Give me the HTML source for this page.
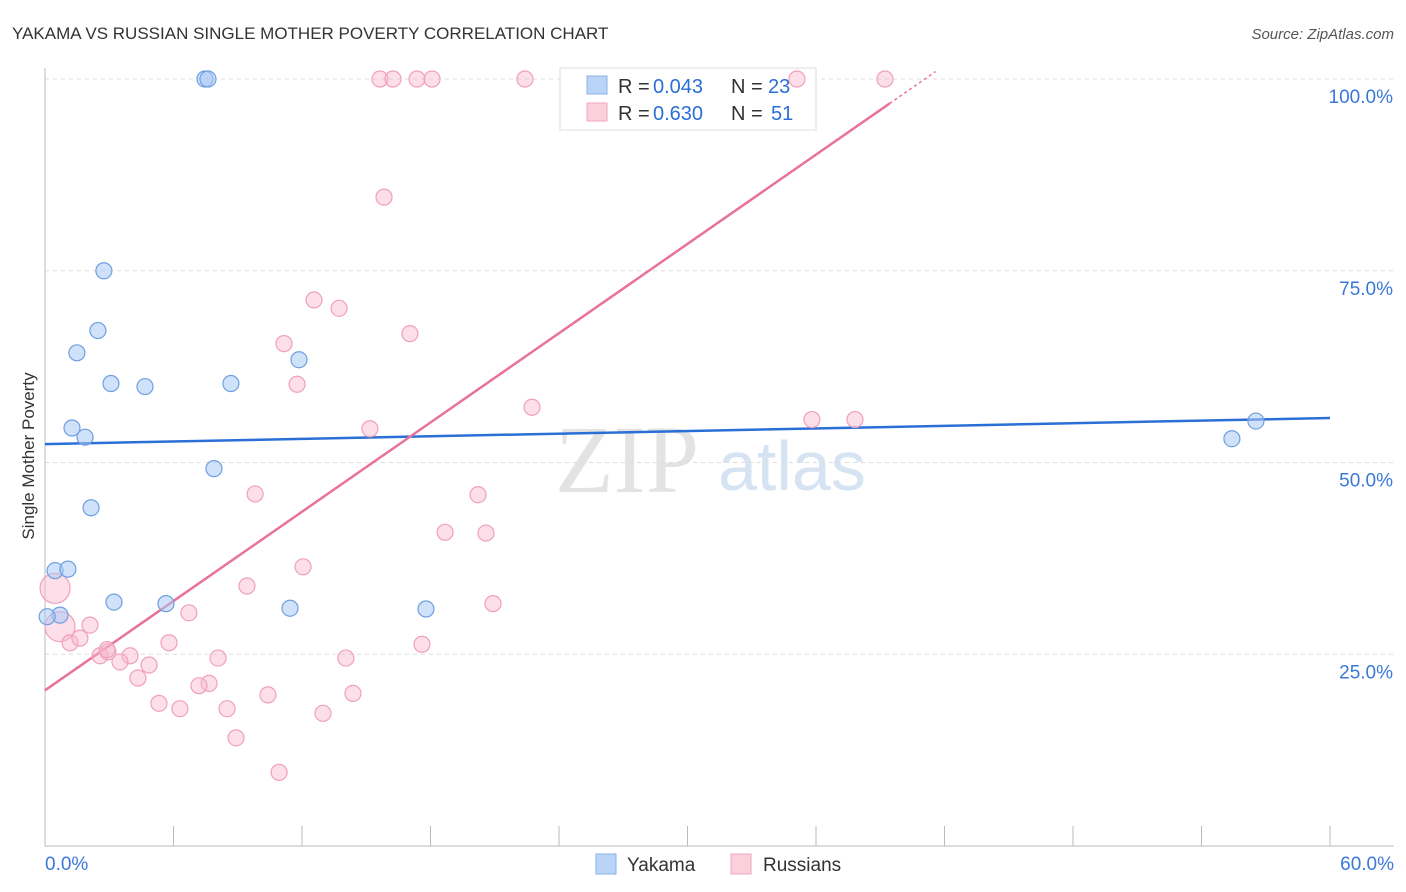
<!DOCTYPE html>
<html><head><meta charset="utf-8">
<style>
body{margin:0;background:#fff;font-family:"Liberation Sans",sans-serif;}
#wrap{position:relative;width:1406px;height:892px;overflow:hidden;}
</style></head>
<body>
<div id="wrap">
<svg id="chart" width="1406" height="892">
<text x="12" y="39" font-size="17" fill="#333">YAKAMA VS RUSSIAN SINGLE MOTHER POVERTY CORRELATION CHART</text>
<text x="1394" y="39" font-size="15" fill="#555" text-anchor="end" font-style="italic">Source: ZipAtlas.com</text>
<text x="34" y="456" font-size="17" fill="#333" text-anchor="middle" transform="rotate(-90 34 456)">Single Mother Poverty</text>
<text x="555" y="492" font-size="96" fill="#e3e3e3" font-family="Liberation Serif,serif">ZIP</text>
<text x="718" y="490" font-size="70" fill="#d6e3f3">atlas</text>
<g id="grid"></g><g id="axes"></g>
<g>
<rect x="560" y="68" width="256" height="62" fill="#fff" stroke="#ddd"/>
<rect x="587" y="76" width="20" height="18" fill="#b9d4f7" stroke="#8ab2e6"/>
<text x="618" y="93" font-size="20" fill="#333">R =</text>
<text x="653" y="93" font-size="20" fill="#2a6fd6">0.043</text>
<text x="731" y="93" font-size="20" fill="#333">N =</text>
<text x="768" y="93" font-size="20" fill="#2a6fd6">23</text>
<rect x="587" y="103" width="20" height="18" fill="#fbcfdc" stroke="#f0a6bd"/>
<text x="618" y="120" font-size="20" fill="#333">R =</text>
<text x="653" y="120" font-size="20" fill="#2a6fd6">0.630</text>
<text x="731" y="120" font-size="20" fill="#333">N =</text>
<text x="771" y="120" font-size="20" fill="#2a6fd6">51</text>
</g>
<g id="lines"></g><g id="pts"></g>
<g>
<rect x="596" y="854" width="20" height="20" fill="#b9d4f7" stroke="#8ab2e6"/>
<text x="627" y="871" font-size="19" fill="#333">Yakama</text>
<rect x="731" y="854" width="20" height="20" fill="#fbcfdc" stroke="#f0a6bd"/>
<text x="763" y="871" font-size="19" fill="#333">Russians</text>
</g>
</svg>
</div>
<script>
const yTicks=[25,50,75,100];
const yTickLabels=["25.0%","50.0%","75.0%","100.0%"];
const xTickLabels=["0.0%","60.0%"];
const blueX=[7.47,7.61,2.75,2.47,1.49,3.08,4.67,8.68,11.86,1.26,1.87,7.89,2.15,0.47,1.07,0.70,0.1,3.22,5.65,11.44,17.79,56.54,55.42];
const blueY=[100,100,75.0,67.2,64.3,60.3,59.9,60.3,63.4,54.5,53.3,49.2,44.1,35.9,36.1,30.1,29.9,31.8,31.6,31.0,30.9,55.4,53.1];
const pinkX=[15.64,16.25,17.37,18.07,22.41,35.11,39.22,15.83,12.56,13.73,17.04,11.16,11.77,22.74,35.81,37.82,15.17,9.81,20.22,18.68,20.59,12.05,9.43,20.92,6.72,0.47,0.70,2.10,1.17,1.63,2.94,2.57,3.97,3.50,4.86,5.79,4.34,8.08,7.66,7.19,5.32,6.30,8.50,10.41,14.05,14.38,12.98,8.92,10.93,17.60,2.9];
const pinkY=[100,100,100,100,100,100,100,84.6,71.2,70.1,66.8,65.5,60.2,57.2,55.6,55.6,54.4,45.9,45.8,40.9,40.8,36.4,33.9,31.6,30.4,33.6,28.6,28.8,26.5,27.1,25.3,24.8,24.8,24.0,23.6,26.5,21.9,24.5,21.2,20.9,18.6,17.9,17.9,19.7,24.5,19.9,17.3,14.1,9.6,26.3,25.6];
const pinkBig=[25,26];
const blueTrend=[52.4,55.8];
const pinkTrend=[20.3,1.94];
const NS="http://www.w3.org/2000/svg";
const X=v=>45+v/60*1285, Y=v=>846-v/100*767;
function mk(p,t,a){const e=document.createElementNS(NS,t);for(const k in a)e.setAttribute(k,a[k]);p.appendChild(e);return e;}
const grid=document.getElementById('grid'),axes=document.getElementById('axes'),lines=document.getElementById('lines'),pts=document.getElementById('pts');
yTicks.forEach((t,i)=>{
 const l=mk(grid,'line',{x1:45,x2:1394,y1:Y(t),y2:Y(t),stroke:'#ddd','stroke-dasharray':'4,4'});
 
 
 const tx=mk(axes,'text',{x:1393,y:Y(t)+24,'font-size':19,fill:'#3b78d8','text-anchor':'end'});
 tx.textContent=yTickLabels[i];
 
 
});
const ax=mk(axes,'line',{x1:45,x2:45,y1:68,y2:846,stroke:'#bbb'});


const bx=mk(axes,'line',{x1:45,x2:1394,y1:846,y2:846,stroke:'#bbb'});


for(let i=0;i<=10;i++){const t=mk(axes,'line',{x1:X(i*6),x2:X(i*6),y1:826,y2:846,stroke:'#bbb'});
 
 }
[[0,'start',45],[60,'end',1394]].forEach((d,i)=>{const t=mk(axes,'text',{x:d[2],y:870,'font-size':19,fill:'#3b78d8','text-anchor':d[1]});t.textContent=xTickLabels[i];
 
 });
const bl=mk(lines,'line',{x1:X(0),y1:Y(blueTrend[0]),x2:X(60),y2:Y(blueTrend[1]),stroke:'#2a6fd6','stroke-width':2.5});


const pe=(100-pinkTrend[0])/pinkTrend[1], ps=(96.8-pinkTrend[0])/pinkTrend[1];
const pl=mk(lines,'line',{x1:X(0),y1:Y(pinkTrend[0]),x2:X(ps),y2:Y(pinkTrend[0]+pinkTrend[1]*ps),stroke:'#e8729a','stroke-width':2.5});


const pd=mk(lines,'line',{x1:X(ps),y1:Y(pinkTrend[0]+pinkTrend[1]*ps),x2:X(pe+0.5),y2:Y(pinkTrend[0]+pinkTrend[1]*(pe+0.5)),stroke:'#e8729a','stroke-width':1.5,'stroke-dasharray':'3,3'});


pinkX.forEach((x,i)=>{const big=pinkBig.includes(i);
 const c=mk(pts,'circle',{cx:X(x),cy:Y(pinkY[i]),r:big?15:8,fill:'rgba(248,184,204,0.45)',stroke:'#f0a0bb','stroke-width':1.2});
 
 });
blueX.forEach((x,i)=>{const c=mk(pts,'circle',{cx:X(x),cy:Y(blueY[i]),r:8,fill:'rgba(170,200,245,0.55)',stroke:'#6f9fe0','stroke-width':1.2});
 
 });
</script>
</body></html>
